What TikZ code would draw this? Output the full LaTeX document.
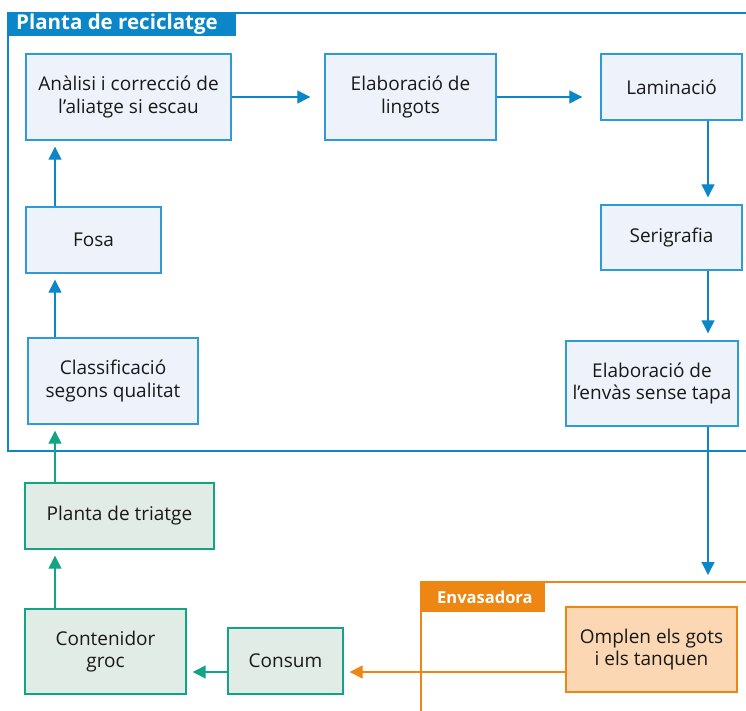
\documentclass[tikz,border=0pt]{standalone}
\usepackage{fontspec}
\setmainfont{Open Sans}
\usetikzlibrary{arrows.meta,calc}
\definecolor{bline}{HTML}{0A86C9}
\definecolor{bbord}{HTML}{2E9BD8}
\definecolor{bfill}{HTML}{EEF2FA}
\definecolor{gline}{HTML}{12A585}
\definecolor{gfill}{HTML}{E2ECE7}
\definecolor{oline}{HTML}{EE8614}
\definecolor{ofill}{HTML}{FBD7B3}
\tikzset{
  box/.style={draw, line width=1.4pt, inner sep=0pt, align=center, font=\fontsize{19}{22.5}\selectfont, text=black!90},
  bluebox/.style={box, draw=bbord, fill=bfill},
  greenbox/.style={box, draw=gline, fill=gfill},
  orangebox/.style={box, draw=oline, fill=ofill},
  arr/.style={line width=1.3pt, -{Triangle[width=13pt,length=13pt]}},
  barr/.style={arr, draw=bline, fill=bline},
  garr/.style={arr, draw=gline, fill=gline},
  oarr/.style={arr, draw=oline, fill=oline},
  tab/.style={inner sep=0pt, text=white, font=\bfseries\fontsize{20.5}{22}\selectfont, anchor=west},
}
\newcommand{\bx}[7]{\node[#6, minimum width={(#4-#2)*1pt}, minimum height={(#5-#3)*1pt}] (#1) at ({(#2+#4)/2},{(#3+#5)/2}) {#7};}
\begin{document}
\begin{tikzpicture}[x=1pt,y=-1pt]
\useasboundingbox (0,0) rectangle (746,711);
\fill[white] (0,0) rectangle (746,711);
\begin{scope}
\clip (0,0) rectangle (746,711);
% frames
\draw[bline, line width=1.4pt] (760,13) -- (8,13) -- (8,451) -- (760,451);
\fill[bline] (8,12) rectangle (236,36);
\node[tab] (t1) at (16,24) {Planta de reciclatge};
\draw[oline, line width=1.3pt] (760,582) -- (421,582) -- (421,720);
\fill[oline] (421,582) rectangle (545,612);
\node[tab, font=\bfseries\fontsize{16.5}{18}\selectfont] (t2) at (437,597.5) {Envasadora};
\end{scope}
% boxes
\bx{anal}{26}{54}{231}{140}{bluebox}{Anàlisi i correcció de\\l’aliatge si escau}
\bx{ling}{325}{54}{496}{140}{bluebox}{Elaboració de\\lingots}
\bx{lami}{601}{54}{742}{120}{bluebox}{Laminació}
\bx{seri}{601}{205}{742}{270}{bluebox}{Serigrafia}
\bx{enva}{566}{341}{738}{426}{bluebox}{Elaboració de\\l’envàs sense tapa}
\bx{fosa}{26}{207}{161}{273}{bluebox}{Fosa}
\bx{clas}{28}{338}{198}{424}{bluebox}{Classificació\\segons qualitat}
\bx{tria}{25}{483}{214}{549}{greenbox}{Planta de triatge}
\bx{cont}{25}{609}{186}{694}{greenbox}{Contenidor\\groc}
\bx{cons}{228}{628}{343}{694}{greenbox}{Consum}
\bx{ompl}{566}{607}{737}{692}{orangebox}{Omplen els gots\\i els tanquen}
% guide coordinates
\coordinate (vr) at (708,0);
\coordinate (vl) at (55,0);
\coordinate (hy) at (0,97);
\coordinate (hb) at (0,672);
\coordinate (down) at (708,575);
% connectors
\draw[barr, shorten >=14pt] (anal.east |- hy) -- (ling.west |- hy);
\draw[barr, shorten >=18pt] (ling.east |- hy) -- (lami.west |- hy);
\draw[barr, shorten >=7pt] (lami.south -| vr) -- (seri.north -| vr);
\draw[barr, shorten >=7pt] (seri.south -| vr) -- (enva.north -| vr);
\draw[barr] (enva.south -| vr) -- (down);
\draw[barr, shorten >=6pt] (fosa.north -| vl) -- (anal.south -| vl);
\draw[barr, shorten >=6pt] (clas.north -| vl) -- (fosa.south -| vl);
\draw[garr, shorten >=6pt] (tria.north -| vl) -- (clas.south -| vl);
\draw[garr, shorten >=6pt] (cont.north -| vl) -- (tria.south -| vl);
\draw[garr, shorten >=6pt] (cons.west |- hb) -- (cont.east |- hb);
\draw[oarr, shorten >=6pt] (ompl.west |- hb) -- (cons.east |- hb);
\end{tikzpicture}
\end{document}
